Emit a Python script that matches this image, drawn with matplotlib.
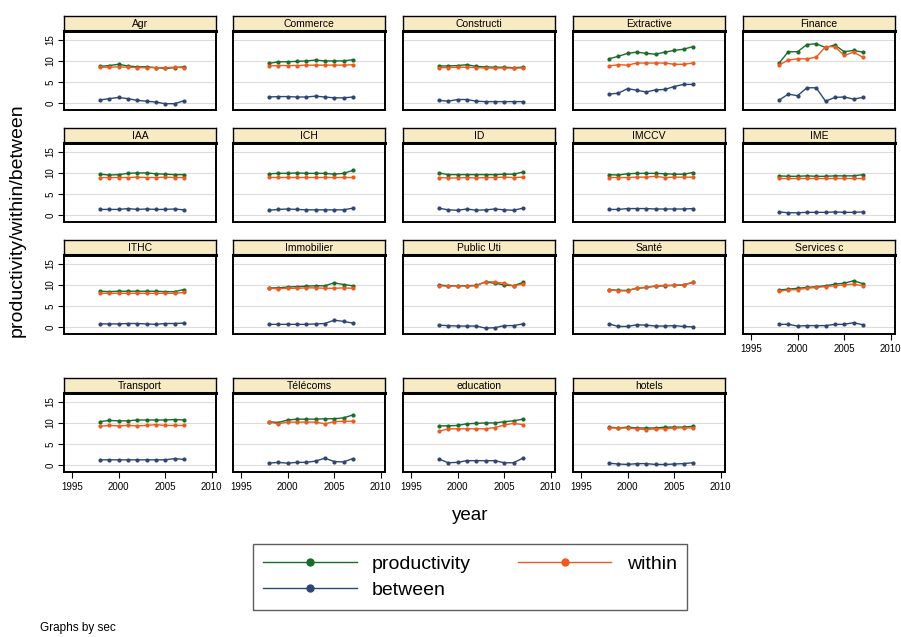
import numpy as np
import matplotlib
matplotlib.use("Agg")
import matplotlib.pyplot as plt
from matplotlib.lines import Line2D

plt.rcParams['font.family'] = ['Liberation Sans', 'DejaVu Sans']

years = np.arange(1998, 2008)

sectors = ["Agr", "Commerce", "Constructi", "Extractive", "Finance",
           "IAA", "ICH", "ID", "IMCCV", "IME",
           "ITHC", "Immobilier", "Public Uti", "Santé", "Services c",
           "Transport", "Télécoms", "education", "hotels"]

productivity = {
    "Agr":        [8.7, 8.9, 9.2, 8.8, 8.6, 8.6, 8.4, 8.2, 8.4, 8.6],
    "Commerce":   [9.4, 9.8, 9.8, 9.9, 10.0, 10.2, 10.0, 10.0, 10.0, 10.3],
    "Constructi": [8.8, 8.8, 8.9, 9.1, 8.7, 8.6, 8.5, 8.5, 8.4, 8.5],
    "Extractive": [10.5, 11.1, 11.8, 12.1, 11.8, 11.6, 12.1, 12.5, 12.8, 13.4],
    "Finance":    [9.4, 12.2, 12.2, 13.9, 14.1, 13.2, 13.8, 12.2, 12.5, 12.1],
    "IAA":        [9.7, 9.5, 9.6, 9.9, 10.0, 10.0, 9.8, 9.7, 9.6, 9.6],
    "ICH":        [9.8, 9.9, 9.9, 10.0, 9.9, 9.9, 9.9, 9.7, 9.9, 10.6],
    "ID":         [10.0, 9.6, 9.6, 9.6, 9.6, 9.6, 9.6, 9.7, 9.7, 10.2],
    "IMCCV":      [9.6, 9.5, 9.8, 9.9, 9.9, 9.9, 9.8, 9.7, 9.7, 10.1],
    "IME":        [9.3, 9.2, 9.2, 9.3, 9.2, 9.2, 9.3, 9.3, 9.3, 9.6],
    "ITHC":       [8.5, 8.4, 8.5, 8.5, 8.5, 8.5, 8.5, 8.4, 8.4, 8.9],
    "Immobilier": [9.3, 9.3, 9.5, 9.6, 9.7, 9.8, 9.8, 10.5, 10.1, 9.8],
    "Public Uti": [10.0, 9.8, 9.8, 9.8, 9.9, 10.7, 10.4, 10.0, 9.8, 10.6],
    "Santé":      [8.9, 8.7, 8.7, 9.2, 9.4, 9.7, 9.8, 9.9, 10.0, 10.6],
    "Services c": [8.8, 9.0, 9.2, 9.4, 9.6, 9.8, 10.2, 10.4, 11.0, 10.3],
    "Transport":  [10.3, 10.6, 10.5, 10.5, 10.7, 10.7, 10.7, 10.7, 10.8, 10.7],
    "Télécoms":   [10.3, 10.1, 10.7, 10.9, 10.9, 10.9, 11.0, 11.0, 11.2, 11.9],
    "education":  [9.3, 9.3, 9.4, 9.8, 9.9, 10.0, 10.0, 10.3, 10.5, 10.9],
    "hotels":     [9.0, 8.8, 9.0, 8.8, 8.8, 8.8, 9.0, 9.0, 9.0, 9.2],
}

within = {
    "Agr":        [8.5, 8.5, 8.6, 8.5, 8.4, 8.4, 8.4, 8.4, 8.5, 8.4],
    "Commerce":   [8.8, 8.9, 8.9, 8.9, 9.0, 9.0, 9.0, 9.0, 9.0, 9.1],
    "Constructi": [8.4, 8.4, 8.5, 8.5, 8.4, 8.3, 8.3, 8.3, 8.3, 8.3],
    "Extractive": [8.8, 9.1, 9.0, 9.5, 9.5, 9.5, 9.5, 9.2, 9.2, 9.5],
    "Finance":    [9.0, 10.2, 10.5, 10.5, 10.9, 13.4, 13.4, 11.3, 12.1, 10.9],
    "IAA":        [8.9, 8.9, 8.9, 8.9, 9.0, 8.9, 8.9, 9.0, 8.9, 8.9],
    "ICH":        [9.1, 9.1, 9.1, 9.1, 9.1, 9.1, 9.1, 9.1, 9.1, 9.1],
    "ID":         [8.9, 8.8, 8.8, 8.9, 8.8, 8.9, 8.9, 9.0, 8.9, 9.0],
    "IMCCV":      [8.9, 8.9, 8.9, 9.0, 9.0, 9.2, 8.9, 9.0, 9.0, 9.0],
    "IME":        [8.9, 8.9, 8.9, 8.9, 8.9, 8.9, 8.9, 8.9, 8.9, 8.9],
    "ITHC":       [8.0, 8.0, 8.0, 8.0, 8.0, 8.0, 8.0, 8.0, 8.0, 8.2],
    "Immobilier": [9.2, 9.1, 9.2, 9.2, 9.3, 9.3, 9.2, 9.2, 9.3, 9.2],
    "Public Uti": [9.8, 9.7, 9.8, 9.7, 9.8, 10.8, 10.7, 10.4, 9.8, 10.2],
    "Santé":      [8.9, 8.6, 8.6, 9.3, 9.4, 9.8, 9.9, 9.9, 10.1, 10.6],
    "Services c": [8.5, 8.8, 8.9, 9.2, 9.4, 9.6, 9.8, 10.0, 10.2, 9.8],
    "Transport":  [9.2, 9.4, 9.3, 9.4, 9.3, 9.4, 9.6, 9.4, 9.4, 9.4],
    "Télécoms":   [10.2, 9.8, 10.2, 10.2, 10.2, 10.2, 9.8, 10.3, 10.4, 10.4],
    "education":  [8.0, 8.6, 8.6, 8.6, 8.6, 8.6, 8.9, 9.5, 9.9, 9.6],
    "hotels":     [8.8, 8.8, 8.8, 8.6, 8.4, 8.6, 8.6, 8.8, 8.8, 8.8],
}

between = {
    "Agr":        [0.7, 1.0, 1.3, 1.0, 0.6, 0.4, 0.2, -0.2, -0.2, 0.5],
    "Commerce":   [1.4, 1.5, 1.5, 1.4, 1.4, 1.6, 1.4, 1.2, 1.2, 1.4],
    "Constructi": [0.6, 0.4, 0.8, 0.8, 0.4, 0.3, 0.3, 0.3, 0.3, 0.3],
    "Extractive": [2.1, 2.3, 3.4, 3.0, 2.6, 3.1, 3.2, 3.9, 4.4, 4.4],
    "Finance":    [0.6, 2.1, 1.7, 3.6, 3.6, 0.4, 1.3, 1.4, 0.9, 1.3],
    "IAA":        [1.3, 1.3, 1.3, 1.5, 1.3, 1.4, 1.3, 1.3, 1.4, 1.2],
    "ICH":        [1.1, 1.3, 1.4, 1.3, 1.2, 1.2, 1.2, 1.2, 1.2, 1.6],
    "ID":         [1.6, 1.2, 1.1, 1.4, 1.1, 1.2, 1.4, 1.2, 1.1, 1.6],
    "IMCCV":      [1.3, 1.3, 1.5, 1.5, 1.5, 1.4, 1.4, 1.4, 1.4, 1.5],
    "IME":        [0.7, 0.5, 0.5, 0.6, 0.6, 0.6, 0.7, 0.6, 0.6, 0.7],
    "ITHC":       [0.7, 0.7, 0.7, 0.8, 0.8, 0.7, 0.6, 0.8, 0.8, 0.9],
    "Immobilier": [0.6, 0.6, 0.6, 0.6, 0.6, 0.7, 0.8, 1.6, 1.3, 0.9],
    "Public Uti": [0.4, 0.3, 0.2, 0.2, 0.2, -0.3, -0.2, 0.3, 0.3, 0.7],
    "Santé":      [0.7, 0.1, 0.1, 0.5, 0.4, 0.2, 0.2, 0.3, 0.1, 0.0],
    "Services c": [0.6, 0.6, 0.2, 0.3, 0.3, 0.3, 0.6, 0.6, 1.0, 0.5],
    "Transport":  [1.2, 1.2, 1.2, 1.2, 1.2, 1.2, 1.2, 1.2, 1.5, 1.3],
    "Télécoms":   [0.4, 0.6, 0.4, 0.6, 0.6, 0.9, 1.6, 0.8, 0.7, 1.5],
    "education":  [1.4, 0.5, 0.6, 1.0, 1.0, 1.0, 1.0, 0.5, 0.5, 1.6],
    "hotels":     [0.4, 0.2, 0.1, 0.3, 0.3, 0.1, 0.1, 0.2, 0.3, 0.5],
}

c_prod = "#1b6b2c"
c_within = "#ef5a1f"
c_between = "#2f4674"
strip_color = "#f7ebc4"

W, H = 901, 637
fig = plt.figure(figsize=(W / 100, H / 100), dpi=100)
fig.patch.set_facecolor("white")


def rect(x, y, w, h):
    return [x / W, 1 - (y + h) / H, w / W, h / H]


col_x = [64, 233, 403, 573, 743]
row_top = [32, 144, 256, 394]
pw, ph = 152, 78

for i, sec in enumerate(sectors):
    r, c = divmod(i, 5)
    x0, y0 = col_x[c], row_top[r]

    # strip with panel title
    sax = fig.add_axes(rect(x0, y0 - 16, pw, 15))
    sax.set_facecolor(strip_color)
    sax.set_xticks([])
    sax.set_yticks([])
    for s in sax.spines.values():
        s.set_linewidth(1.0)
    sax.spines["bottom"].set_linewidth(2.2)
    sax.text(0.5, 0.45, sec, ha="center", va="center", fontsize=7.5,
             transform=sax.transAxes)

    ax = fig.add_axes(rect(x0, y0, pw, ph))
    ax.plot(years, productivity[sec], color=c_prod, lw=1, marker="o", ms=2.0)
    ax.plot(years, within[sec], color=c_within, lw=1, marker="o", ms=2.0)
    ax.plot(years, between[sec], color=c_between, lw=1, marker="o", ms=2.0)
    ax.set_xlim(1994.15, 2010.45)
    ax.set_ylim(-1.7, 16.9)
    ax.set_yticks([0, 5, 10, 15])
    ax.set_xticks([1995, 2000, 2005, 2010])
    ax.grid(axis="y", color="#dcdcdc", lw=0.8)
    ax.set_axisbelow(True)
    for s in ax.spines.values():
        s.set_linewidth(1.4)

    bottom_row = (r == 3) or (r == 2 and c == 4)
    if c == 0:
        ax.tick_params(axis="y", length=4, width=0.8, labelsize=7, pad=2)
        for lab in ax.get_yticklabels():
            lab.set_rotation(90)
            lab.set_va("center")
    else:
        ax.tick_params(axis="y", length=0, labelleft=False)
    if bottom_row:
        ax.tick_params(axis="x", length=4, width=0.8, labelsize=7, pad=3)
    else:
        ax.tick_params(axis="x", length=0, labelbottom=False)

fig.text(17 / W, 1 - 220 / H, "productivity/within/between", rotation=90,
         ha="center", va="center", fontsize=14)
fig.text(470 / W, 1 - 515 / H, "year", ha="center", va="center", fontsize=13.5)

handles = [
    Line2D([], [], color=c_prod, lw=1, marker="o", ms=5),
    Line2D([], [], color=c_between, lw=1, marker="o", ms=5),
    Line2D([], [], color=c_within, lw=1, marker="o", ms=5),
]
labels = ["productivity", "between", "within"]
leg = fig.legend(handles, labels, ncol=2, loc="center",
                 bbox_to_anchor=(470 / W, 1 - 577 / H), fontsize=14,
                 frameon=True, fancybox=False, edgecolor="#333333",
                 handlelength=4.8, columnspacing=2.4, handletextpad=0.8,
                 labelspacing=0.45, borderpad=0.55, borderaxespad=0)
leg.get_frame().set_linewidth(1.0)

fig.text(40 / W, 1 - 628 / H, "Graphs by sec", ha="left", va="center",
         fontsize=8.5)

fig.savefig("out.png", dpi=100)
